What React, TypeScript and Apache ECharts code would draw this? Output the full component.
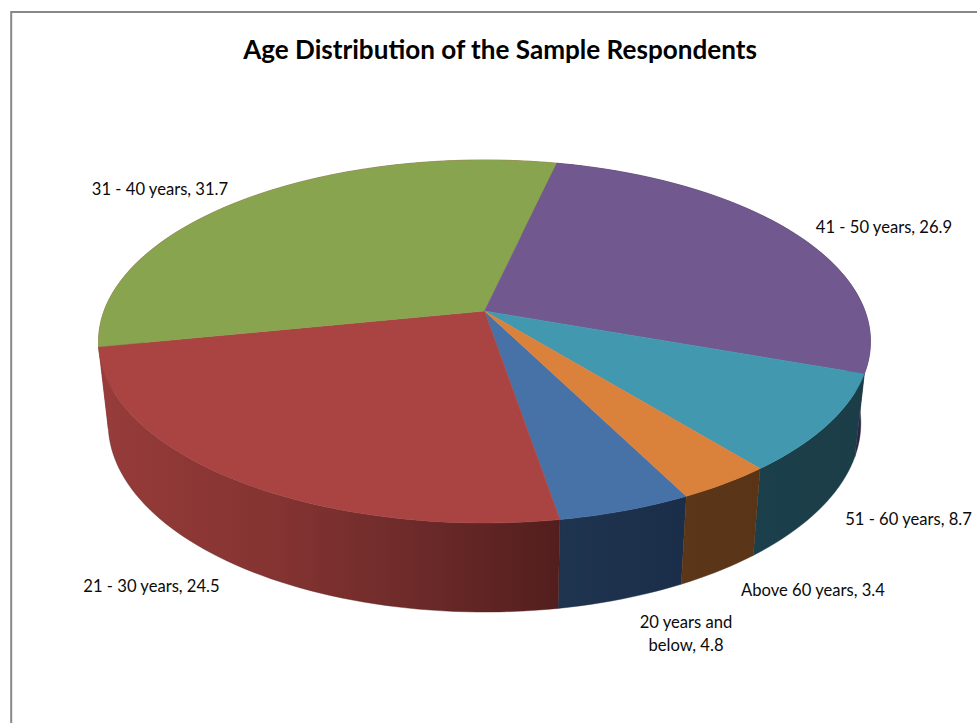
import React, { useEffect, useRef } from "react";
import * as echarts from "echarts";

// Respondent age bands, in the order they run clockwise around the pie.
const ageBands = ["20 years and below", "21 - 30 years", "31 - 40 years", "41 - 50 years", "51 - 60 years", "Above 60 years"];
const sharePercent = [4.8, 24.5, 31.7, 26.9, 8.7, 3.4];

const topColors = ["#4672a8", "#a94442", "#89a44f", "#71588f", "#4198af", "#da813c"];
const wallStops: [number, string][][] = [
  [[0, "#1f344f"], [1, "#1b2e49"]],
  [[0, "#973c3a"], [0.4, "#833331"], [0.7, "#6b2a29"], [1, "#521e1d"]],
  [[0, "#973c3a"], [1, "#973c3a"]],
  [[0, "#2c2340"], [1, "#2c2340"]],
  [[0, "#1b404b"], [1, "#1b3d48"]],
  [[0, "#5b3618"], [1, "#593416"]],
];

// Text anchors for the outside labels, one per band.
const labelSpots: [number, number][] = [[686, 633.5], [151.5, 586], [160, 189], [884, 227], [908.5, 519], [813, 590]];
const labelLines = ["20 years and\nbelow, 4.8"];

// Perspective projection of the pie's rim onto the page.
const START_DEG = 153.2;
const CX = 484.5;
const RADIUS = 380.5;
const TILT = 0.168;
const TOP_RIM = { cy: 311, h: 176.4, scale: 1 };
const BASE_RIM = { cy: 391.5, h: 183.5, scale: 0.975 };

type Rim = typeof TOP_RIM;

function project(deg: number, rim: Rim): number[] {
  const t = (deg * Math.PI) / 180;
  const u = Math.sin(t);
  const v = Math.cos(t);
  const w = 1 + TILT * v;
  return [CX + (rim.scale * RADIUS * u) / w, rim.cy - (rim.h * v) / w];
}

function arcPoints(from: number, to: number, rim: Rim): number[][] {
  const steps = Math.max(4, Math.ceil((to - from) / 1.5));
  const pts: number[][] = [];
  for (let i = 0; i <= steps; i++) pts.push(project(from + ((to - from) * i) / steps, rim));
  return pts;
}

function sliceRange(index: number): [number, number] {
  const total = sharePercent.reduce((a, b) => a + b, 0);
  const before = sharePercent.slice(0, index).reduce((a, b) => a + b, 0);
  return [START_DEG + (before / total) * 360, START_DEG + ((before + sharePercent[index]) / total) * 360];
}

const FONT = "Lato, Carlito, sans-serif";

export default function App() {
  const ref = useRef<HTMLDivElement>(null);
  useEffect(() => {
    const chart = echarts.init(ref.current!, undefined, { renderer: "svg" });
    chart.setOption({
      animation: false,
      backgroundColor: "#ffffff",
      title: {
        text: "Age Distribution of the Sample Respondents",
        left: 495,
        top: 31,
        textAlign: "center",
        textStyle: { fontFamily: FONT, fontSize: 26.1, fontWeight: "bold", color: "#000000" },
      },
      graphic: [
        {
          type: "rect",
          silent: true,
          shape: { x: 11.2, y: 12, width: 1200, height: 1000 },
          style: { fill: "none", stroke: "#888888", lineWidth: 2 },
        },
      ],
      series: [
        {
          // Side walls of the pie, painted first so the top faces sit over them.
          type: "custom",
          coordinateSystem: "none",
          silent: true,
          z: 2,
          data: sharePercent.map((value, i) => [value, i]),
          renderItem: (params: any) => {
            const i = params.dataIndex;
            const [from, to] = sliceRange(i);
            const upper = arcPoints(from, to, TOP_RIM);
            const lower = arcPoints(from, to, BASE_RIM).reverse();
            const stops = wallStops[i];
            return {
              type: "polygon",
              shape: { points: upper.concat(lower) },
              style: {
                fill: new echarts.graphic.LinearGradient(
                  0, 0, 1, 0,
                  stops.map(([offset, color]) => ({ offset, color }))
                ),
                stroke: stops[stops.length - 1][1],
                lineWidth: 0.4,
              },
            };
          },
        },
        {
          // Top faces of the slices with their outside labels.
          type: "custom",
          coordinateSystem: "none",
          silent: true,
          z: 3,
          data: sharePercent.map((value, i) => [value, i]),
          renderItem: (params: any, api: any) => {
            const i = params.dataIndex;
            const [from, to] = sliceRange(i);
            const apex = [CX, TOP_RIM.cy];
            const text = i === 0 ? labelLines[0] : `${ageBands[i]}, ${api.value(0)}`;
            return {
              type: "group",
              children: [
                {
                  type: "polygon",
                  shape: { points: [apex, ...arcPoints(from, to, TOP_RIM)] },
                  style: { fill: topColors[i], stroke: topColors[i], lineWidth: 0.5 },
                },
                {
                  type: "text",
                  x: labelSpots[i][0],
                  y: labelSpots[i][1],
                  style: {
                    text,
                    fontFamily: FONT,
                    fontSize: 16.6,
                    lineHeight: 23,
                    fill: "#0a0a0a",
                    align: "center",
                    verticalAlign: "middle",
                  },
                },
              ],
            };
          },
        },
      ],
    });
    return () => chart.dispose();
  }, []);
  return <div ref={ref} style={{ position: "absolute", left: 0, top: 0, width: 977, height: 723 }} />;
}
